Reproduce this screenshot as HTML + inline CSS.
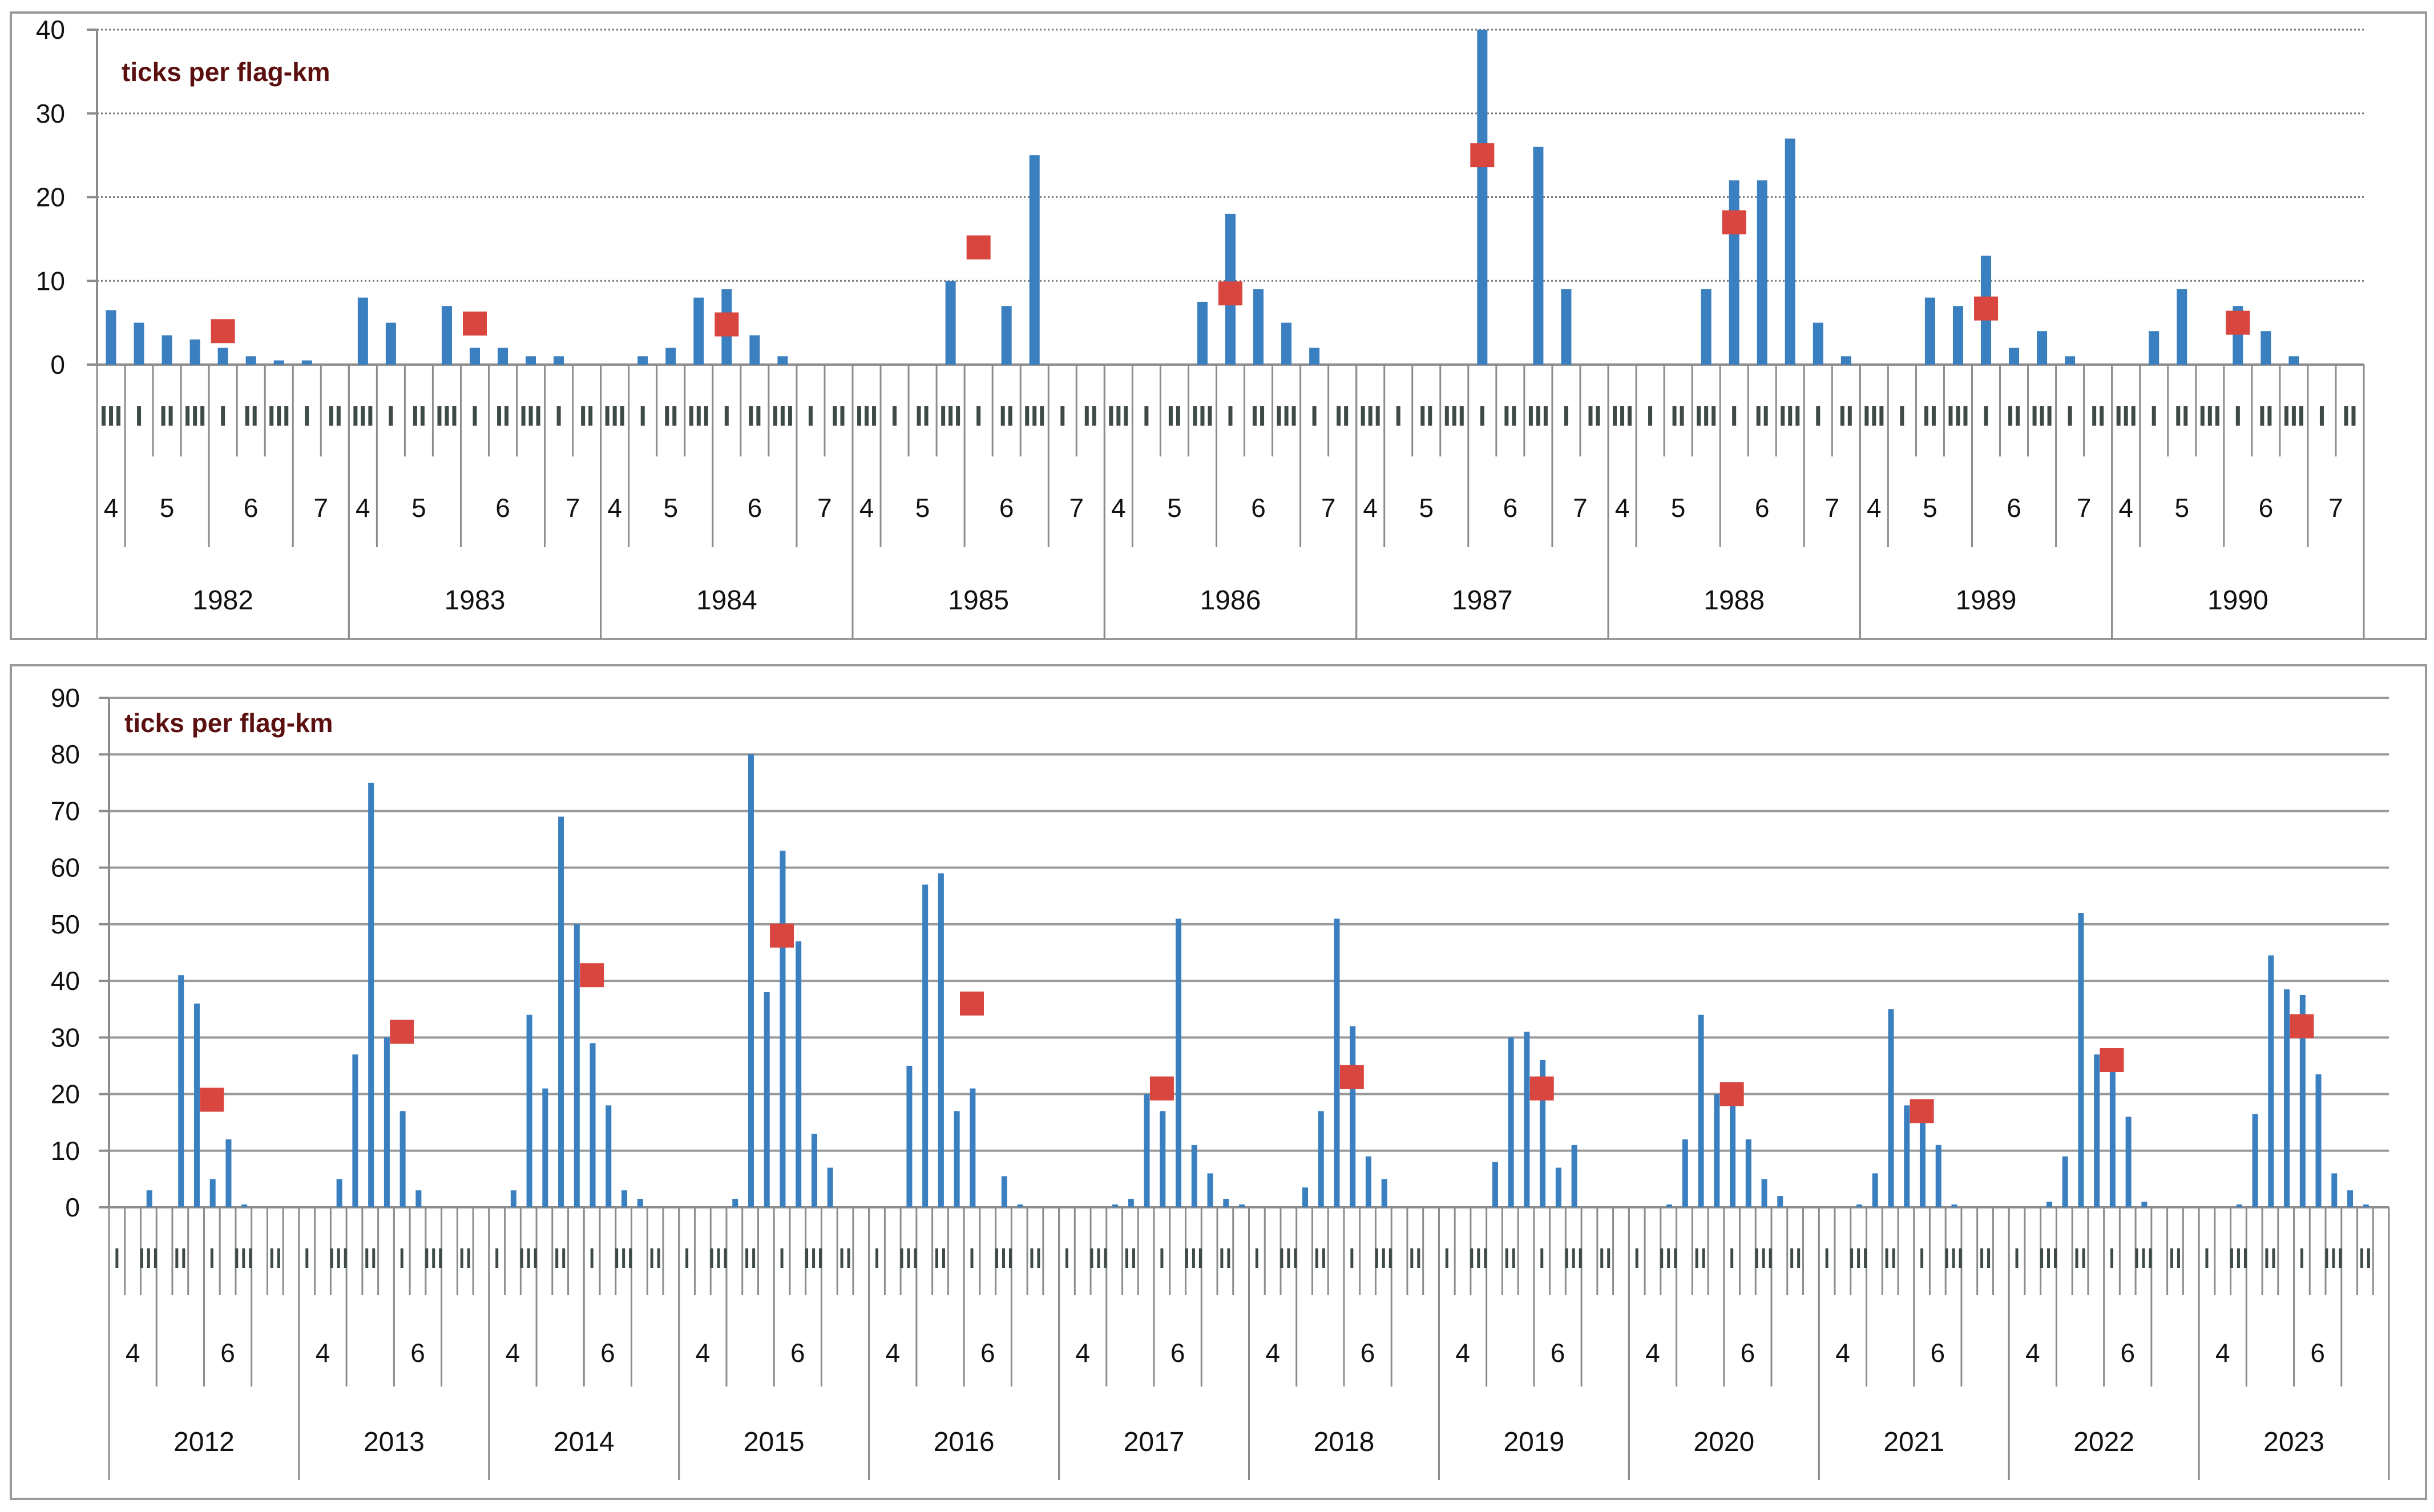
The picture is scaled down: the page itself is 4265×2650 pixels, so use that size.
<!DOCTYPE html>
<html><head><meta charset="utf-8"><style>
html,body{margin:0;padding:0;background:#fff;}
svg{display:block;}
text{font-family:"Liberation Sans",sans-serif;}
</style></head>
<body>
<svg id="chart" width="4265" height="2650" viewBox="0 0 4265 2650" xmlns="http://www.w3.org/2000/svg">
<rect x="0" y="0" width="4265" height="2650" fill="#fff"/>
</svg>
<script>
// ---------- top chart data (9 decade-slots per year) ----------
const topYears = ["1982","1983","1984","1985","1986","1987","1988","1989","1990"];
const topBars = [
  [6.5,5,3.5,3,2,1,0.5,0.5,0],
  [8,5,0,7,2,2,1,1,0],
  [0,1,2,8,9,3.5,1,0,0],
  [0,0,0,10,0,7,25,0,0],
  [0,0,0,7.5,18,9,5,2,0],
  [0,0,0,0,40,0,26,9,0],
  [0,0,0,9,22,22,27,5,1],
  [0,0,8,7,13,2,4,1,0],
  [0,4,9,0,7,4,1,0,0]
];
const topMean = [4,4.9,4.8,14,8.5,25,17,6.7,5];
const topMeanSlot = 4;
const topTicks = [0,10,20,30,40];
const topMonths = ["4","5","6","7"];
const topMonthPos = [0.5,2.5,5.5,8];
const topMarks = [3,1,2,3,1,2,3,1,2];

// ---------- bottom chart data (12 slots per year) ----------
const botYears = ["2012","2013","2014","2015","2016","2017","2018","2019","2020","2021","2022","2023"];
const botBars = [
  [0,0,3,0,41,36,5,12,0.5,0,0,0],
  [0,0,5,27,75,30,17,3,0,0,0,0],
  [0,3,34,21,69,50,29,18,3,1.5,0,0],
  [0,0,0,1.5,80,38,63,47,13,7,0,0],
  [0,0,25,57,59,17,21,0,5.5,0.5,0,0],
  [0,0,0,0.5,1.5,20,17,51,11,6,1.5,0.5],
  [0,0,0,3.5,17,51,32,9,5,0,0,0],
  [0,0,0,8,30,31,26,7,11,0,0,0],
  [0,0,0.5,12,34,20,18,12,5,2,0,0],
  [0,0,0.5,6,35,18,15,11,0.5,0,0,0],
  [0,0,1,9,52,27,26,16,1,0,0,0],
  [0,0,0.5,16.5,44.5,38.5,37.5,23.5,6,3,0.5,0]
];
const botMean = [19,31,41,48,36,21,23,21,20,17,26,32];
const botMeanSlot = 6;
const botTicks = [0,10,20,30,40,50,60,70,80,90];
const botMonths = ["4","6"];
const botMonthPos = [1.5,7.5];
const botMarks = [1,3,2,1,3,2];

const svg = document.getElementById('chart');
const NS = 'http://www.w3.org/2000/svg';
function mk(tag, attrs, parent){
  const e = document.createElementNS(NS, tag);
  for (const k in attrs) e.setAttribute(k, attrs[k]);
  (parent||svg).appendChild(e);
  return e;
}
const GRAY = '#8c8c8c', BLUE = '#3a7fbf', RED = '#d9453f', MARK = '#3e4b45';

function drawPanel(cfg){
  const g = mk('g', {});
  
  
  const frame = mk('rect', {x:cfg.fx, y:cfg.fy, width:cfg.fw, height:cfg.fh, fill:'none', stroke:'#999', 'stroke-width':4}, g);
  
  
  const nY = cfg.years.length, nS = cfg.slots;
  const yw = (cfg.x1 - cfg.x0) / nY, sw = yw / nS;
  const yS = v => cfg.y0 - (v / cfg.vmax) * (cfg.y0 - cfg.yTop);
  // gridlines & y labels
  cfg.ticks.forEach(t => {
    const y = yS(t);
    if (t > 0) {
      const gl = mk('line', {x1:cfg.x0, x2:cfg.x1, y1:y, y2:y, stroke:cfg.dotted?'#7a7a7a':'#9a9a9a', 'stroke-width':cfg.dotted?3:4, 'stroke-dasharray':cfg.dotted?'3 4':'none'}, g);
      
      
    }
    mk('line', {x1:cfg.x0-18, x2:cfg.x0, y1:y, y2:y, stroke:GRAY, 'stroke-width':4}, g);
    const tl = mk('text', {x:cfg.labelX, y:y+16, 'font-size':46, 'text-anchor':'end', fill:'#111'}, g);
    tl.textContent = t;
    
    
  });
  // x axis
  mk('line', {x1:cfg.x0, x2:cfg.x1, y1:cfg.y0, y2:cfg.y0, stroke:GRAY, 'stroke-width':4}, g);
  mk('line', {x1:cfg.x0, x2:cfg.x0, y1:cfg.yTop, y2:cfg.y0, stroke:GRAY, 'stroke-width':4}, g);
  for (let i = 0; i < nY; i++) {
    const xs = cfg.x0 + i * yw;
    // separators
    for (let s = 0; s <= nS; s++) {
      const x = xs + s * sw;
      let y2;
      if (s === 0 || s === nS) y2 = cfg.yearBottom;
      else if (cfg.monthBounds.includes(s)) y2 = cfg.monthBottom;
      else y2 = cfg.slotBottom;
      mk('line', {x1:x, x2:x, y1:cfg.y0, y2:y2, stroke:GRAY, 'stroke-width':3}, g);
    }
    // markers
    cfg.marks.forEach((m, k) => {
      const cx = xs + (cfg.markSlots[k] + 0.5) * sw;
      for (let b = 0; b < m; b++) {
        const bx = cx + (b - (m - 1) / 2) * cfg.markGap - cfg.markW / 2;
        const r = mk('rect', {x:bx, y:cfg.markY, width:cfg.markW, height:cfg.markH, fill:MARK}, g);
        
        
      }
    });
    // month labels
    cfg.months.forEach((m, k) => {
      const t = mk('text', {x:xs + cfg.monthPos[k] * sw, y:cfg.monthY, 'font-size':46, 'text-anchor':'middle', fill:'#111'}, g);
      t.textContent = m;
      
      
    });
    // year label
    const yl = mk('text', {x:xs + yw / 2, y:cfg.yearY, 'font-size':48, 'text-anchor':'middle', fill:'#111'}, g);
    yl.textContent = cfg.years[i];
    
    
    // bars
    cfg.bars[i].forEach((v, s) => {
      if (v <= 0) return;
      const cx = xs + (s + cfg.barOff) * sw;
      const r = mk('rect', {x:cx - cfg.barW / 2, y:yS(v), width:cfg.barW, height:cfg.y0 - yS(v), fill:BLUE}, g);
      
      
    });
  }
  // mean markers on top
  for (let i = 0; i < nY; i++) {
    const xs = cfg.x0 + i * yw;
    const cx = xs + (cfg.meanSlot + 0.5) * sw, cy = yS(cfg.mean[i]);
    const r = mk('rect', {x:cx - cfg.sq / 2, y:cy - cfg.sq / 2, width:cfg.sq, height:cfg.sq, fill:RED}, g);
    
    
  }
  const title = mk('text', {x:cfg.titleX, y:cfg.titleY, 'font-size':46, 'font-weight':'bold', fill:'#5b0f0f'}, g);
  title.textContent = 'ticks per flag-km';
  
  
}

drawPanel({
  name:'top-chart-1980s', fx:19, fy:22, fw:4232, fh:1098,
  years:topYears, slots:9, x0:170, x1:4142, y0:639, yTop:52, vmax:40,
  ticks:topTicks, dotted:true, labelX:114,
  bars:topBars, barOff:0.5, barW:18, mean:topMean, meanSlot:topMeanSlot, sq:42,
  monthBounds:[1,4,7], slotBottom:800, monthBottom:959, yearBottom:1120,
  marks:topMarks, markSlots:[0,1,2,3,4,5,6,7,8], markW:7, markGap:13, markY:712, markH:34,
  months:topMonths, monthPos:topMonthPos, monthY:906, yearY:1068,
  titleX:213, titleY:142
});
drawPanel({
  name:'bottom-chart-2010s', fx:19, fy:1166, fw:4232, fh:1461,
  years:botYears, slots:12, x0:191, x1:4186, y0:2116, yTop:1223, vmax:90,
  ticks:botTicks, dotted:false, labelX:140,
  bars:botBars, barOff:0.55, barW:10, mean:botMean, meanSlot:botMeanSlot, sq:42,
  monthBounds:[3,6,9], slotBottom:2270, monthBottom:2430, yearBottom:2594,
  marks:botMarks, markSlots:[0,2,4,6,8,10], markW:5, markGap:12, markY:2188, markH:34,
  months:botMonths, monthPos:botMonthPos, monthY:2387, yearY:2543,
  titleX:218, titleY:1283
});
</script>
</body></html>
